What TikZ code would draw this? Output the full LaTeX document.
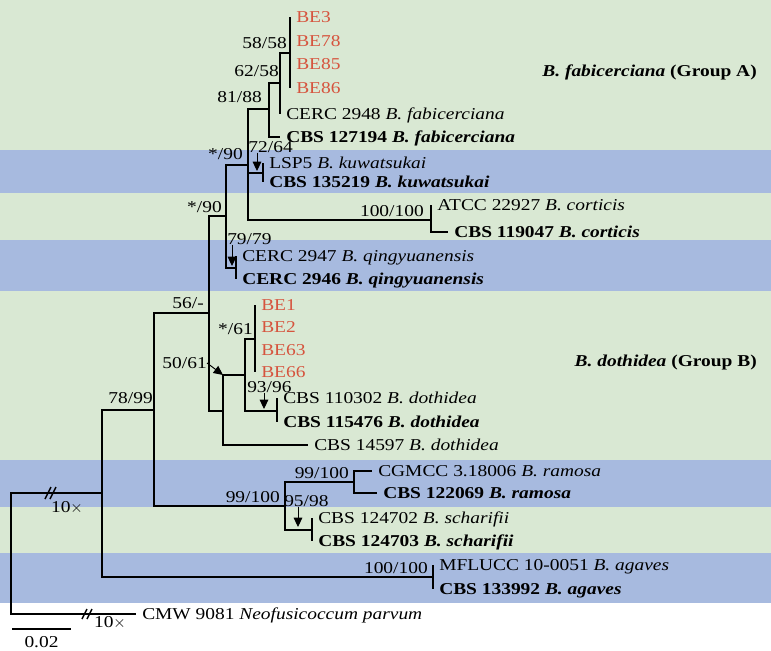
\documentclass[tikz,border=0pt]{standalone}
\usepackage{fontspec}
\setmainfont[FakeStretch=1.17]{Liberation Serif}
\usepackage{tikz}
\usetikzlibrary{arrows.meta}

\definecolor{bandgreen}{RGB}{217,232,211}
\definecolor{bandblue}{RGB}{167,186,223}
\definecolor{isored}{RGB}{214,84,62}

\begin{document}
\begin{tikzpicture}[
    x=0.75pt, y=-0.75pt,
    every node/.style={font=\fontsize{12.45}{14}\selectfont, inner sep=0pt, text height=8.2pt, text depth=0pt},
    leaf/.style={anchor=west, inner xsep=4.5pt},
    isolate/.style={leaf, text=isored},
    branch/.style={line width=1.5pt},
    pointer/.style={-{Triangle[length=7pt, width=6.5pt]}, line width=0.7pt},
    slash/.style={line width=1.1pt}
]
    \useasboundingbox (0,0) rectangle (771,650);

    % clade bands
    \foreach \ytop/\ybot/\bandcol in {0/150/bandgreen, 150/193/bandblue, 193/240/bandgreen,
        240/291/bandblue, 291/460/bandgreen, 460/507/bandblue, 507/553/bandgreen, 553/603/bandblue}
        \fill[\bandcol] (0,\ytop) rectangle (771,\ybot);

    % internal nodes
    \coordinate (root) at (11,553);
    \coordinate (nin) at (102,493);
    \coordinate (n7899) at (154,410);
    \coordinate (n56) at (209,313);
    \coordinate (n90b) at (226,216);
    \coordinate (n90a) at (248,165);
    \coordinate (nfab) at (269,109);
    \coordinate (n6258) at (280,83);
    \coordinate (n5858) at (290,53);
    \coordinate (nkuw) at (263,173);
    \coordinate (ncor) at (431,220);
    \coordinate (nqin) at (236,268);
    \coordinate (ndot) at (223,411);
    \coordinate (n5061) at (245,375);
    \coordinate (n61) at (255,339);
    \coordinate (n9396) at (277,411);
    \coordinate (nrs) at (285,506);
    \coordinate (nram) at (354,482);
    \coordinate (nsch) at (312,530);
    \coordinate (nagv) at (433,577);

    % isolates
    \node[isolate] (be3) at (290,17) {BE3};
    \node[isolate] (be78) at (290,41) {BE78};
    \node[isolate] (be85) at (290,64) {BE85};
    \node[isolate] (be86) at (290,88) {BE86};
    \node[leaf] (cerc2948) at (280,114) {CERC 2948 \textit{B. fabicerciana}};
    \node[leaf] (cbs127194) at (280,137) {\textbf{CBS 127194 \textit{B. fabicerciana}}};
    \node[leaf] (lsp5) at (263,163) {LSP5 \textit{B. kuwatsukai}};
    \node[leaf] (cbs135219) at (263,182) {\textbf{CBS 135219 \textit{B. kuwatsukai}}};
    \node[leaf] (atcc) at (431,205) {ATCC 22927 \textit{B. corticis}};
    \node[leaf] (cbs119047) at (448,232) {\textbf{CBS 119047 \textit{B. corticis}}};
    \node[leaf] (cerc2947) at (236,256) {CERC 2947 \textit{B. qingyuanensis}};
    \node[leaf] (cerc2946) at (236,279) {\textbf{CERC 2946 \textit{B. qingyuanensis}}};
    \node[isolate] (be1) at (255,305) {BE1};
    \node[isolate] (be2) at (255,327) {BE2};
    \node[isolate] (be63) at (255,350) {BE63};
    \node[isolate] (be66) at (255,372) {BE66};
    \node[leaf] (cbs110302) at (277,398) {CBS 110302 \textit{B. dothidea}};
    \node[leaf] (cbs115476) at (277,422) {\textbf{CBS 115476 \textit{B. dothidea}}};
    \node[leaf] (cbs14597) at (308,445) {CBS 14597 \textit{B. dothidea}};
    \node[leaf] (cgmcc) at (372,471) {CGMCC 3.18006 \textit{B. ramosa}};
    \node[leaf] (cbs122069) at (377,493) {\textbf{CBS 122069 \textit{B. ramosa}}};
    \node[leaf] (cbs124702) at (312,518) {CBS 124702 \textit{B. scharifii}};
    \node[leaf] (cbs124703) at (312,541) {\textbf{CBS 124703 \textit{B. scharifii}}};
    \node[leaf] (mflucc) at (433,565) {MFLUCC 10-0051 \textit{B. agaves}};
    \node[leaf] (cbs133992) at (433,589) {\textbf{CBS 133992 \textit{B. agaves}}};
    \node[leaf] (cmw) at (136,614) {CMW 9081 \textit{Neofusicoccum parvum}};

    % branches
    \draw[branch] (root) |- (nin) (root) |- (cmw);
    \draw[branch] (nin) |- (n7899) (nin) |- (nagv);
    \draw[branch] (nagv) |- (mflucc) (nagv) |- (cbs133992);
    \draw[branch] (n7899) |- (n56) (n7899) |- (nrs);
    \draw[branch] (n56) |- (n90b) (n56) |- (ndot);
    \draw[branch] (n90b) |- (n90a) (n90b) |- (nqin);
    \draw[branch] (n90a) |- (nfab) (n90a) |- (nkuw) (n90a) |- (ncor);
    \draw[branch] (nfab) |- (n6258) (nfab) |- (cbs127194);
    \draw[branch] (n6258) |- (n5858) (n6258) |- (cerc2948);
    \draw[branch] (n5858) |- (be3) (n5858) |- (be78) (n5858) |- (be85) (n5858) |- (be86);
    \draw[branch] (nkuw) |- (lsp5) (nkuw) |- (cbs135219);
    \draw[branch] (ncor) |- (atcc) (ncor) |- (cbs119047);
    \draw[branch] (nqin) |- (cerc2947) (nqin) |- (cerc2946);
    \draw[branch] (ndot) |- (n5061) (ndot) |- (cbs14597);
    \draw[branch] (n5061) |- (n61) (n5061) |- (n9396);
    \draw[branch] (n61) |- (be1) (n61) |- (be2) (n61) |- (be63) (n61) |- (be66);
    \draw[branch] (n9396) |- (cbs110302) (n9396) |- (cbs115476);
    \draw[branch] (nrs) |- (nram) (nrs) |- (nsch);
    \draw[branch] (nram) |- (cgmcc) (nram) |- (cbs122069);
    \draw[branch] (nsch) |- (cbs124702) (nsch) |- (cbs124703);

    % broken branches
    \draw[slash] (45,499) -- (51,487) (50,499) -- (56,487);
    \draw[slash] (82,619) -- (87,609) (87,619) -- (92,609);
    \node (x10in) at (67,507) {10$\times$};
    \node (x10out) at (110,622) {10$\times$};

    % support values
    \node[anchor=east] (l5858) at (287,43) {58/58};
    \node[anchor=east] (l6258) at (279,71) {62/58};
    \node[anchor=east] (l8188) at (262,97) {81/88};
    \node[anchor=east] (l7264) at (293,147) {72/64};
    \node[anchor=east] (l90a) at (243,154) {*/90};
    \node[anchor=east] (l90b) at (222,207) {*/90};
    \node[anchor=east] (lcor) at (424,211) {100/100};
    \node[anchor=west] (l7979) at (227,239) {79/79};
    \node[anchor=east] (l56) at (204,303) {56/-};
    \node[anchor=east] (l61) at (253,329) {*/61};
    \node[anchor=east] (l5061) at (207,363) {50/61};
    \node[anchor=west] (l9396) at (247,387) {93/96};
    \node[anchor=east] (l7899) at (153,398) {78/99};
    \node[anchor=east] (lram) at (349,473) {99/100};
    \node[anchor=east] (lrs) at (280,497) {99/100};
    \node[anchor=west] (l9598) at (284,501) {95/98};
    \node[anchor=east] (lagv) at (428,568) {100/100};

    % pointers to short branches
    \coordinate (a7264) at (257,171);
    \coordinate (a7979) at (232,266);
    \coordinate (a9396) at (264,409);
    \coordinate (a9598) at (298,527);
    \draw[pointer] (l7264.south -| a7264) -- (a7264);
    \draw[pointer] (l7979.south -| a7979) -- (a7979);
    \draw[pointer] (l9396.south -| a9396) -- (a9396);
    \draw[pointer] (l9598.south -| a9598) -- (a9598);
    \draw[pointer] (l5061.east) -- (ndot |- n5061);

    % groups
    \node[anchor=east] (grpa) at (757,71) {\textbf{\textit{B. fabicerciana} (Group A)}};
    \node[anchor=east] (grpb) at (757,361) {\textbf{\textit{B. dothidea} (Group B)}};

    % scale bar
    \coordinate (sb0) at (12,629);
    \coordinate (sb1) at (71,629);
    \draw[line width=0.8pt] (sb0) -- (sb1) node[midway, below=5pt] (sblab) {0.02};
\end{tikzpicture}
\end{document}
